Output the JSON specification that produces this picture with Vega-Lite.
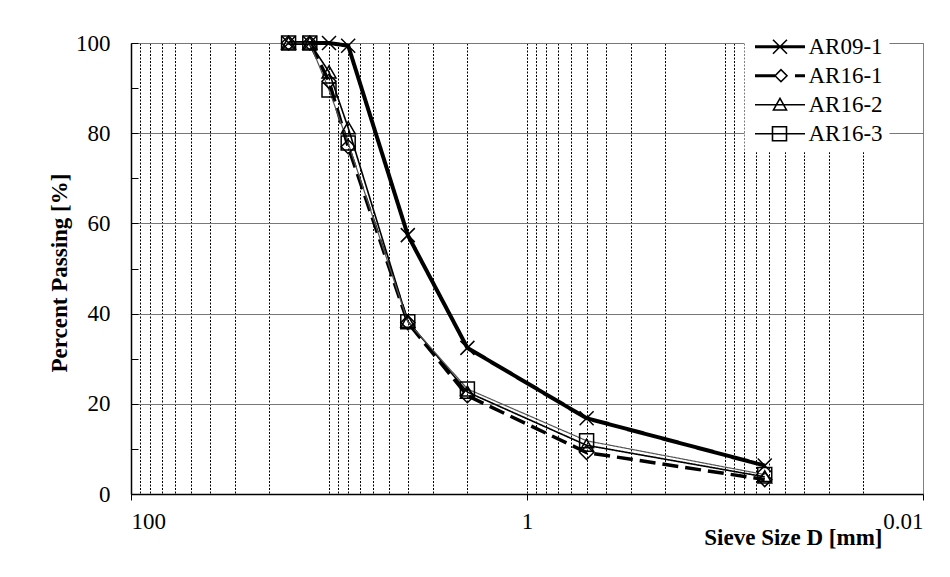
{
  "$schema": "https://vega.github.io/schema/vega-lite/v6.json",
  "width": 792,
  "height": 451,
  "autosize": {"type": "none"},
  "padding": {"left": 131, "top": 43, "right": 27, "bottom": 83},
  "background": "white",
  "config": {
    "font": "Liberation Serif",
    "view": {"stroke": "#808080", "strokeWidth": 1},
    "axis": {
      "labelFont": "Liberation Serif",
      "labelFontSize": 23,
      "labelColor": "black",
      "titleFont": "Liberation Serif",
      "titleFontSize": 23,
      "titleFontWeight": "bold",
      "titleColor": "black",
      "domainColor": "black",
      "domainWidth": 1.5,
      "tickColor": "black",
      "tickWidth": 1
    }
  },
  "data": {
    "values": [
      {"series": "AR09-1", "size_mm": 16, "passing": 100},
      {"series": "AR09-1", "size_mm": 12.5, "passing": 100},
      {"series": "AR09-1", "size_mm": 10, "passing": 100},
      {"series": "AR09-1", "size_mm": 8, "passing": 99.4},
      {"series": "AR09-1", "size_mm": 4, "passing": 57.4},
      {"series": "AR09-1", "size_mm": 2, "passing": 32.4},
      {"series": "AR09-1", "size_mm": 0.5, "passing": 16.8},
      {"series": "AR09-1", "size_mm": 0.063, "passing": 6.3},
      {"series": "AR16-1", "size_mm": 16, "passing": 100},
      {"series": "AR16-1", "size_mm": 12.5, "passing": 100},
      {"series": "AR16-1", "size_mm": 10, "passing": 91.5},
      {"series": "AR16-1", "size_mm": 8, "passing": 77},
      {"series": "AR16-1", "size_mm": 4, "passing": 38},
      {"series": "AR16-1", "size_mm": 2, "passing": 21.8},
      {"series": "AR16-1", "size_mm": 0.5, "passing": 9.2},
      {"series": "AR16-1", "size_mm": 0.063, "passing": 3.2},
      {"series": "AR16-2", "size_mm": 16, "passing": 100},
      {"series": "AR16-2", "size_mm": 12.5, "passing": 100},
      {"series": "AR16-2", "size_mm": 10, "passing": 93.6},
      {"series": "AR16-2", "size_mm": 8, "passing": 81.2},
      {"series": "AR16-2", "size_mm": 4, "passing": 38.3},
      {"series": "AR16-2", "size_mm": 2, "passing": 22.6},
      {"series": "AR16-2", "size_mm": 0.5, "passing": 10.8},
      {"series": "AR16-2", "size_mm": 0.063, "passing": 3.8},
      {"series": "AR16-3", "size_mm": 16, "passing": 100},
      {"series": "AR16-3", "size_mm": 12.5, "passing": 100},
      {"series": "AR16-3", "size_mm": 10, "passing": 89.6},
      {"series": "AR16-3", "size_mm": 8, "passing": 77.8},
      {"series": "AR16-3", "size_mm": 4, "passing": 38.2},
      {"series": "AR16-3", "size_mm": 2, "passing": 23.3},
      {"series": "AR16-3", "size_mm": 0.5, "passing": 11.8},
      {"series": "AR16-3", "size_mm": 0.063, "passing": 4.3}
    ]
  },
  "layer": [
    {
      "mark": {"type": "line"},
      "encoding": {
        "x": {
          "field": "size_mm",
          "type": "quantitative",
          "scale": {"type": "log", "domain": [0.01, 100], "reverse": true},
          "axis": {
            "orient": "bottom",
            "values": [100, 1, 0.01],
            "format": "~g",
            "grid": false,
            "tickSize": 6,
            "labelPadding": 10,
            "title": "Sieve Size D [mm]",
            "titleX": 751,
            "titleY": 43,
            "titleAlign": "right",
            "titleBaseline": "middle"
          }
        },
        "y": {
          "field": "passing",
          "type": "quantitative",
          "scale": {"domain": [0, 100], "nice": false},
          "axis": {
            "orient": "left",
            "values": [0, 5, 10, 15, 20, 25, 30, 35, 40, 45, 50, 55, 60, 65, 70, 75, 80, 85, 90, 95, 100],
            "labelExpr": "datum.value % 20 === 0 ? datum.label : ''",
            "tickSize": -7,
            "labelPadding": 28,
            "grid": true,
            "gridColor": "#777777",
            "gridWidth": 1,
            "gridOpacity": {"condition": {"test": "datum.value % 20 === 0", "value": 1}, "value": 0},
            "title": "Percent Passing [%]",
            "titleX": -72,
            "titleY": 229.5,
            "titleAngle": 270,
            "titleAlign": "center",
            "titleBaseline": "middle"
          }
        },
        "detail": {"field": "series", "type": "nominal"},
        "color": {
          "condition": {"test": "datum.series === 'AR16-3'", "value": "#555555"},
          "value": "#000000"
        },
        "strokeWidth": {
          "condition": [
            {"test": "datum.series === 'AR09-1'", "value": 4},
            {"test": "datum.series === 'AR16-1'", "value": 3.5},
            {"test": "datum.series === 'AR16-2'", "value": 1.6}
          ],
          "value": 1.2
        },
        "strokeDash": {
          "condition": {"test": "datum.series === 'AR16-1'", "value": [16, 7]},
          "value": [1, 0]
        }
      }
    },
    {
      "mark": {"type": "point", "filled": false, "size": 196, "strokeWidth": 1.5, "opacity": 1},
      "encoding": {
        "x": {
          "field": "size_mm",
          "type": "quantitative",
          "axis": {
            "orient": "bottom",
            "values": [90, 80, 70, 60, 50, 40, 30, 20, 10, 9, 8, 7, 6, 5, 4, 3, 2, 1, 0.9, 0.8, 0.7, 0.6, 0.5, 0.4, 0.3, 0.2, 0.1, 0.09, 0.08, 0.07, 0.06, 0.05, 0.04, 0.03, 0.02],
            "grid": true,
            "gridDash": [2, 1.5],
            "gridColor": "#000000",
            "gridWidth": 1,
            "labels": false,
            "ticks": false,
            "domain": false,
            "title": null
          }
        },
        "y": {"field": "passing", "type": "quantitative"},
        "shape": {
          "condition": [
            {"test": "datum.series === 'AR09-1'", "value": "M-1,-1L1,1M-1,1L1,-1"},
            {"test": "datum.series === 'AR16-1'", "value": "diamond"},
            {"test": "datum.series === 'AR16-2'", "value": "triangle-up"}
          ],
          "value": "square"
        },
        "color": {
          "field": "series",
          "type": "nominal",
          "scale": {"domain": ["AR09-1", "AR16-1", "AR16-2", "AR16-3"], "range": ["#000000", "#000000", "#000000", "#000000"]},
          "legend": {
            "title": null,
            "orient": "none",
            "legendX": 613.5,
            "legendY": -13.8,
            "fillColor": "white",
            "padding": 6,
            "labelFont": "Liberation Serif",
            "labelFontSize": 23,
            "labelColor": "black",
            "labelOffset": 35,
            "rowPadding": 5,
            "symbolSize": 196,
            "symbolStrokeWidth": 1.6,
            "encoding": {
              "symbols": {
                "shape": {
                  "condition": [
                    {"test": "datum.value === 'AR09-1'", "value": "M-1,-0.1H6.14M-1,0.1H6.14M1.57,-1L3.57,1M1.57,1L3.57,-1"},
                    {"test": "datum.value === 'AR16-1'", "value": "M-1,-0.1H1.86M-1,0.1H1.86M1.86,0L2.71,-0.86L3.57,0L2.71,0.86ZM4.71,-0.1H6.14M4.71,0.1H6.14"},
                    {"test": "datum.value === 'AR16-2'", "value": "M-1,0H6.14M2.57,-0.9L3.5,0.75H1.64Z"}
                  ],
                  "value": "M-1,0H6.14M1.5,-1H3.5V1H1.5Z"
                },
                "fill": {"value": "transparent"}
              }
            }
          }
        }
      }
    }
  ],
  "resolve": {"axis": {"x": "independent"}}
}
